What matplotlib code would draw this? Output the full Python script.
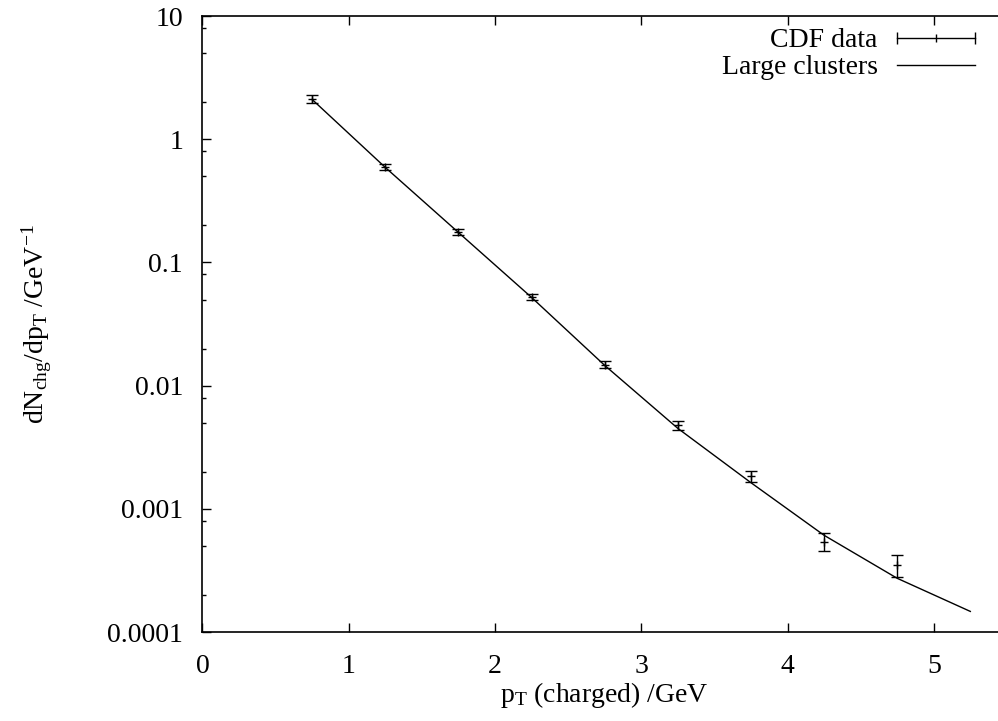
import matplotlib
matplotlib.use("Agg")
import matplotlib.pyplot as plt
import numpy as np
from matplotlib.lines import Line2D
from matplotlib.legend_handler import HandlerLine2D, HandlerTuple
from matplotlib.ticker import FixedLocator

# data
pt_data = [0.75, 1.25, 1.75, 2.25, 2.75, 3.25, 3.75, 4.25, 4.75]
cdf_vals = [2.12, 0.595, 0.1755, 0.0521, 0.0148, 0.00479, 0.00184, 0.000541, 0.000348]
cdf_err = [0.15, 0.033, 0.010, 0.003, 0.0009, 0.0004, 0.0002, 0.00009, 0.00007]

pt_model = [0.75, 1.25, 1.75, 2.25, 2.75, 3.25, 3.75, 4.25, 4.75, 5.25]
model_vals = [2.1, 0.59, 0.175, 0.052, 0.0146, 0.0045, 0.00163, 0.00061, 0.000273, 0.000147]

xticks = [0, 1, 2, 3, 4, 5]
yticks = [10, 1, 0.1, 0.01, 0.001, 0.0001]
ytick_labels = ["10", "1", "0.1", "0.01", "0.001", "0.0001"]

plt.rcParams["font.family"] = ["Liberation Serif", "DejaVu Serif"]
plt.rcParams["mathtext.fontset"] = "custom"
plt.rcParams["mathtext.rm"] = "Liberation Serif"
plt.rcParams["mathtext.it"] = "Liberation Serif:italic"
plt.rcParams["font.size"] = 20

fig = plt.figure(figsize=(9.98, 7.21), dpi=100)
# right edge of the frame is cut off in the reference
ax = fig.add_axes([0.2029, 0.1234, 0.806, 0.8544])

ax.errorbar(pt_data, cdf_vals, yerr=cdf_err, fmt="+", color="black",
            ms=6, mew=1.0, elinewidth=1.0, capsize=4.5, capthick=1.0)
ax.plot(pt_model, model_vals, color="black", lw=1.0)

ax.set_yscale("log")
ax.set_xlim(0, 5.5)
ax.set_ylim(1e-4, 10)

ax.set_xticks(xticks)
ax.set_xticklabels([str(t) for t in xticks])
ax.yaxis.set_major_locator(FixedLocator(yticks))
ax.set_yticklabels(ytick_labels)
minors = [m * 10.0 ** e for e in range(-4, 1) for m in (2, 5, 8)]
ax.yaxis.set_minor_locator(FixedLocator(minors))
ax.yaxis.set_minor_formatter(plt.NullFormatter())
ax.xaxis.set_minor_locator(FixedLocator([]))

ax.tick_params(which="major", direction="in", length=6.5, width=1.0,
               top=True, right=False, labelsize=20)
ax.tick_params(which="minor", direction="in", length=3.2, width=1.0,
               top=False, right=False)
ax.tick_params(axis="y", which="major", pad=14)
ax.tick_params(axis="x", which="major", pad=16)
ax.spines["right"].set_visible(False)
for s in ("left", "bottom", "top"):
    ax.spines[s].set_linewidth(1.2)

ax.set_xlabel(r"$\mathrm{p_T}$ (charged) /GeV", fontsize=20)
ax.set_ylabel(r"$\mathrm{dN_{chg}/dp_T\ /GeV^{-1}}$", fontsize=20)
ax.xaxis.set_label_coords(0.5, -0.078)
ax.yaxis.set_label_coords(-0.185, 0.5)

# legend handles in gnuplot style
bar_line = Line2D([], [], color="black", lw=1.0)
bar_caps = Line2D([], [], color="black", ls="none", marker="|", ms=8, mew=1.0)
bar_pt = Line2D([], [], color="black", ls="none", marker="|", ms=6, mew=1.0)
model_line = Line2D([], [], color="black", lw=1.0)
leg = ax.legend(
    [(bar_line, bar_caps, bar_pt), model_line],
    ["CDF data", "Large clusters"],
    handler_map={
        bar_caps: HandlerLine2D(numpoints=2, marker_pad=0),
        bar_pt: HandlerLine2D(numpoints=1),
        tuple: HandlerTuple(ndivide=1, pad=0),
    },
    loc="upper right", bbox_to_anchor=(975 / 998, 1 - 28 / 721),
    bbox_transform=fig.transFigure, frameon=False, markerfirst=False,
    handlelength=2.8, handletextpad=0.7, labelspacing=0.05,
    borderpad=0, borderaxespad=0, fontsize=20,
)

fig.savefig("out.png", dpi=100)
